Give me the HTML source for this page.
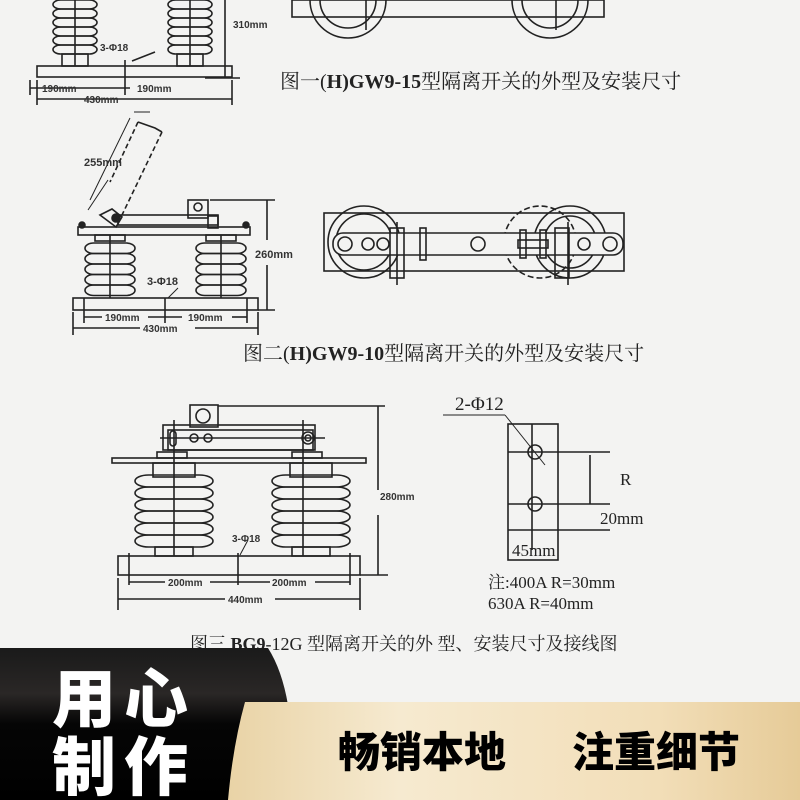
<!DOCTYPE html>
<html><head><meta charset="utf-8"><style>
html,body{margin:0;padding:0;width:800px;height:800px;overflow:hidden;background:#f3f3f2}
svg{display:block}
.t{font-family:"Liberation Serif","Noto Serif CJK SC",serif;fill:#222}
.d{font-family:"Liberation Sans",sans-serif;font-weight:bold;fill:#333}
</style></head><body>
<svg width="800" height="800" viewBox="0 0 800 800" xmlns="http://www.w3.org/2000/svg">
<defs>
<g id="sh"><rect x="-1" y="0" width="2" height="1" rx="0.35" ry="0.5" fill="none" stroke="#222" vector-effect="non-scaling-stroke" stroke-width="1.6"/></g>
</defs>
<rect width="800" height="800" fill="#f3f3f2"/>
<g stroke="#222" stroke-width="1.6" fill="none">
<g>
<use href="#sh" transform="translate(75,0) scale(22,9)"/><use href="#sh" transform="translate(75,9) scale(22,9)"/><use href="#sh" transform="translate(75,18) scale(22,9)"/><use href="#sh" transform="translate(75,27) scale(22,9)"/><use href="#sh" transform="translate(75,36) scale(22,9)"/><use href="#sh" transform="translate(75,45) scale(22,9)"/>
<use href="#sh" transform="translate(190,0) scale(22,9)"/><use href="#sh" transform="translate(190,9) scale(22,9)"/><use href="#sh" transform="translate(190,18) scale(22,9)"/><use href="#sh" transform="translate(190,27) scale(22,9)"/><use href="#sh" transform="translate(190,36) scale(22,9)"/><use href="#sh" transform="translate(190,45) scale(22,9)"/>
<rect x="62" y="54" width="26" height="12"/><rect x="177" y="54" width="26" height="12"/>
<line x1="75" y1="0" x2="75" y2="66"/><line x1="190" y1="0" x2="190" y2="66"/>
<rect x="37" y="66" width="195" height="11"/>
<line x1="225" y1="0" x2="225" y2="78"/><line x1="205" y1="78" x2="240" y2="78"/>
<line x1="30" y1="88" x2="130" y2="88"/><line x1="30" y1="80" x2="30" y2="95"/><line x1="125" y1="60" x2="125" y2="95"/><line x1="132" y1="61" x2="155" y2="52"/>
<line x1="37" y1="80" x2="37" y2="105"/><line x1="232" y1="80" x2="232" y2="105"/><line x1="37" y1="99" x2="232" y2="99"/>
</g>
<g>
<rect x="292" y="0" width="312" height="17"/>
<path d="M310 0 A38 38 0 0 0 386 0"/><path d="M320 0 A28 28 0 0 0 376 0"/>
<path d="M512 0 A38 38 0 0 0 588 0"/><path d="M522 0 A28 28 0 0 0 578 0"/>
<line x1="366" y1="0" x2="366" y2="30"/><line x1="556" y1="0" x2="556" y2="30"/>
</g>
<g>
<line x1="130" y1="118" x2="90" y2="200" stroke-width="1"/><line x1="138" y1="122" x2="110" y2="182" stroke-dasharray="5,3"/><line x1="162" y1="132" x2="122" y2="215" stroke-dasharray="5,3"/><path d="M138 122 L155 128 L162 132"/>
<line x1="134" y1="112" x2="150" y2="112" stroke-width="1"/>
<line x1="108" y1="180" x2="88" y2="210" stroke-width="1"/>
<rect x="118" y="215" width="100" height="10"/>
<path d="M100 215 l12 -6 l10 8 l-6 10 z"/><circle cx="116" cy="218" r="4" fill="#222"/>
<rect x="188" y="200" width="20" height="18"/><circle cx="198" cy="207" r="4"/>
<rect x="208" y="216" width="10" height="12"/>
<rect x="78" y="227" width="172" height="8"/>
<circle cx="82" cy="225" r="3" fill="#222"/><circle cx="246" cy="225" r="3" fill="#222"/>
<rect x="95" y="235" width="30" height="6"/><rect x="206" y="235" width="30" height="6"/>
<use href="#sh" transform="translate(110,243) scale(25,10.5)"/><use href="#sh" transform="translate(110,253.5) scale(25,10.5)"/><use href="#sh" transform="translate(110,264) scale(25,10.5)"/><use href="#sh" transform="translate(110,274.5) scale(25,10.5)"/><use href="#sh" transform="translate(110,285) scale(25,10.5)"/>
<use href="#sh" transform="translate(221,243) scale(25,10.5)"/><use href="#sh" transform="translate(221,253.5) scale(25,10.5)"/><use href="#sh" transform="translate(221,264) scale(25,10.5)"/><use href="#sh" transform="translate(221,274.5) scale(25,10.5)"/><use href="#sh" transform="translate(221,285) scale(25,10.5)"/>
<line x1="110" y1="235" x2="110" y2="298"/><line x1="221" y1="235" x2="221" y2="298"/>
<rect x="73" y="298" width="185" height="12"/>
<line x1="210" y1="200" x2="275" y2="200"/><line x1="267" y1="200" x2="267" y2="240"/><line x1="267" y1="265" x2="267" y2="310"/><line x1="258" y1="310" x2="275" y2="310"/>
<line x1="84" y1="298" x2="84" y2="323"/><line x1="165" y1="298" x2="165" y2="323"/><line x1="247" y1="298" x2="247" y2="323"/>
<line x1="84" y1="317" x2="102" y2="317"/><line x1="148" y1="317" x2="182" y2="317"/><line x1="232" y1="317" x2="247" y2="317"/>
<line x1="73" y1="312" x2="73" y2="335"/><line x1="258" y1="312" x2="258" y2="335"/><line x1="73" y1="328" x2="140" y2="328"/><line x1="195" y1="328" x2="258" y2="328"/>
<line x1="168" y1="298" x2="178" y2="288" stroke-width="1"/>
</g>
<g>
<rect x="324" y="213" width="300" height="58"/>
<circle cx="364" cy="242" r="36"/><circle cx="364" cy="242" r="28"/><circle cx="540" cy="242" r="36" stroke-dasharray="6,3"/><circle cx="570" cy="242" r="36"/><circle cx="570" cy="242" r="26"/>
<rect x="333" y="233" width="290" height="22" rx="10" fill="#f3f3f2"/>
<circle cx="345" cy="244" r="7"/><circle cx="368" cy="244" r="6"/><circle cx="383" cy="244" r="6"/><circle cx="478" cy="244" r="7"/><circle cx="584" cy="244" r="6"/><circle cx="610" cy="244" r="7"/>
<rect x="390" y="228" width="14" height="50"/><line x1="397" y1="222" x2="397" y2="285"/><rect x="420" y="228" width="6" height="32"/>
<rect x="520" y="230" width="6" height="28"/><rect x="540" y="230" width="6" height="28"/><rect x="518" y="240" width="30" height="8"/>
<rect x="555" y="228" width="14" height="50"/><line x1="568" y1="222" x2="568" y2="285"/>
</g>
<g>
<rect x="190" y="405" width="28" height="22"/><circle cx="203" cy="416" r="7"/>
<line x1="218" y1="406" x2="385" y2="406"/>
<rect x="163" y="425" width="152" height="25"/><rect x="168" y="430" width="145" height="20"/>
<line x1="160" y1="438" x2="325" y2="438"/>
<rect x="170" y="431" width="6" height="15" rx="3"/><circle cx="194" cy="438" r="4"/><circle cx="208" cy="438" r="4"/><circle cx="308" cy="438" r="6"/><circle cx="308" cy="438" r="3"/>
<rect x="112" y="458" width="254" height="5"/>
<rect x="157" y="452" width="30" height="6"/><rect x="292" y="452" width="30" height="6"/>
<rect x="153" y="463" width="42" height="14"/><rect x="290" y="463" width="42" height="14"/>
<use href="#sh" transform="translate(174,475) scale(39,12)"/><use href="#sh" transform="translate(174,487) scale(39,12)"/><use href="#sh" transform="translate(174,499) scale(39,12)"/><use href="#sh" transform="translate(174,511) scale(39,12)"/><use href="#sh" transform="translate(174,523) scale(39,12)"/><use href="#sh" transform="translate(174,535) scale(39,12)"/>
<use href="#sh" transform="translate(311,475) scale(39,12)"/><use href="#sh" transform="translate(311,487) scale(39,12)"/><use href="#sh" transform="translate(311,499) scale(39,12)"/><use href="#sh" transform="translate(311,511) scale(39,12)"/><use href="#sh" transform="translate(311,523) scale(39,12)"/><use href="#sh" transform="translate(311,535) scale(39,12)"/>
<rect x="155" y="547" width="38" height="9"/><rect x="292" y="547" width="38" height="9"/>
<line x1="174" y1="420" x2="174" y2="556"/><line x1="303" y1="420" x2="303" y2="556"/>
<rect x="118" y="556" width="242" height="19"/>
<line x1="378" y1="406" x2="378" y2="490"/><line x1="378" y1="515" x2="378" y2="575"/><line x1="360" y1="575" x2="388" y2="575"/>
<line x1="129" y1="553" x2="129" y2="585"/><line x1="238" y1="553" x2="238" y2="585"/><line x1="350" y1="553" x2="350" y2="585"/>
<line x1="129" y1="582" x2="165" y2="582"/><line x1="210" y1="582" x2="270" y2="582"/><line x1="315" y1="582" x2="350" y2="582"/>
<line x1="118" y1="578" x2="118" y2="610"/><line x1="360" y1="578" x2="360" y2="610"/><line x1="118" y1="599" x2="225" y2="599"/><line x1="275" y1="599" x2="360" y2="599"/>
<line x1="240" y1="555" x2="248" y2="540" stroke-width="1"/>
</g>
<g>
<line x1="443" y1="415" x2="505" y2="415" stroke-width="1"/><line x1="505" y1="415" x2="545" y2="465" stroke-width="1"/>
<rect x="508" y="424" width="50" height="136"/>
<line x1="532" y1="424" x2="532" y2="550"/>
<line x1="508" y1="452" x2="610" y2="452"/><line x1="508" y1="504" x2="610" y2="504"/><line x1="508" y1="530" x2="610" y2="530"/>
<circle cx="535" cy="452" r="7"/><circle cx="535" cy="504" r="7"/>
<line x1="590" y1="455" x2="590" y2="504"/>
</g>
</g>
<g class="d" font-size="10">
<text x="233" y="28">310mm</text><text x="100" y="51">3-Φ18</text>
<text x="42" y="92">190mm</text><text x="137" y="92">190mm</text><text x="84" y="103">430mm</text>
<text x="84" y="166" font-size="11">255mm</text>
<text x="255" y="258" font-size="11">260mm</text>
<text x="147" y="285" font-size="11">3-Φ18</text>
<text x="105" y="321">190mm</text><text x="188" y="321">190mm</text><text x="143" y="332">430mm</text>
<text x="380" y="500">280mm</text>
<text x="232" y="542">3-Φ18</text>
<text x="168" y="586">200mm</text><text x="272" y="586">200mm</text><text x="228" y="603">440mm</text>
</g>
<g class="t">
<text x="280" y="88" font-size="20">图一(<tspan font-weight="bold">H)GW9-15</tspan>型隔离开关的外型及安装尺寸</text>
<text x="243" y="360" font-size="20">图二(<tspan font-weight="bold">H)GW9-10</tspan>型隔离开关的外型及安装尺寸</text>
<text x="455" y="410" font-size="19">2-Φ12</text>
<text x="620" y="485" font-size="17">R</text>
<text x="600" y="524" font-size="17">20mm</text>
<text x="512" y="556" font-size="17">45mm</text>
<text x="488" y="588" font-size="17">注:400A  R=30mm</text>
<text x="488" y="609" font-size="17">630A  R=40mm</text>
<text x="190" y="650" font-size="18">图三 <tspan font-weight="bold">BG9</tspan>-12G 型隔离开关的外 型、安装尺寸及接线图</text>
</g>
<defs>
<linearGradient id="gold" x1="0" y1="0" x2="1" y2="0">
<stop offset="0" stop-color="#e9d3a6"/><stop offset="0.3" stop-color="#f6ead0"/><stop offset="0.75" stop-color="#f2deb8"/><stop offset="1" stop-color="#e6cb98"/>
</linearGradient>
<linearGradient id="dk" x1="0" y1="0" x2="0" y2="1">
<stop offset="0" stop-color="#1a1a1a"/><stop offset="0.3" stop-color="#2a2726"/><stop offset="0.5" stop-color="#050505"/><stop offset="1" stop-color="#000"/>
</linearGradient>
</defs>
<path d="M0 648 L268 648 Q282 670 288 705 L245 705 Q235 750 230 800 L0 800 Z" fill="url(#dk)"/>
<path d="M245 702 L800 702 L800 800 L228 800 Q233 745 245 702 Z" fill="url(#gold)"/>
<g font-family="'Liberation Sans','Noto Sans CJK SC',sans-serif" font-weight="900">
<text x="52" y="722" font-size="64" fill="#fff" letter-spacing="8">用心</text>
<text x="52" y="790" font-size="64" fill="#fff" letter-spacing="8">制作</text>
<text x="338" y="767" font-size="42" fill="#000">畅销本地</text>
<text x="572" y="767" font-size="42" fill="#000">注重细节</text>
</g>
</svg>
</body></html>
